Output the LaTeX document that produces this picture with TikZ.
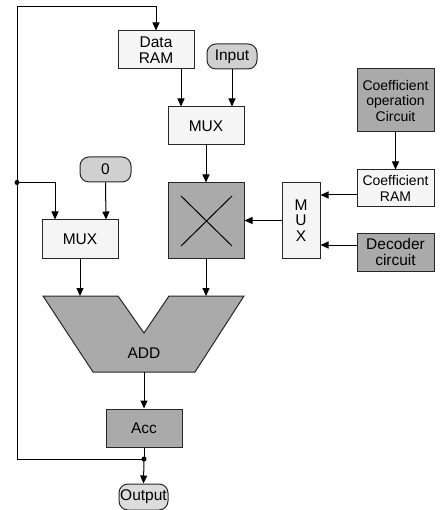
\documentclass[tikz,border=0pt]{standalone}
\usepackage{fontspec}
\setmainfont{Liberation Sans}
\usetikzlibrary{arrows.meta,calc}
\definecolor{lightbox}{HTML}{F5F5F5}
\definecolor{darkbox}{HTML}{AAAAAA}
\definecolor{pillc}{HTML}{D0D0D0}
\definecolor{pillo}{HTML}{DCDCDC}
\definecolor{edge}{HTML}{262626}
\begin{document}
\begin{tikzpicture}[x=1pt,y=-1pt,
  every node/.style={font=\fontsize{15.5}{15.5}\selectfont, inner sep=0pt, align=center},
  lbox/.style={draw=edge, line width=1pt, fill=lightbox, minimum width=76pt, minimum height=38pt},
  dbox/.style={draw=edge, line width=1pt, fill=darkbox, minimum width=77pt, minimum height=38pt},
  pill/.style={draw=edge, line width=1pt, fill=pillc, rounded corners=9pt, minimum height=25pt},
  smallt/.style={font=\fontsize{14}{15.5}\selectfont},
  conn/.style={draw=black, line width=1pt},
  arr/.style={conn, -{Triangle[length=8pt,width=7pt]}},
  jdot/.style={circle, fill=black, inner sep=0pt, minimum size=5pt}
]
\useasboundingbox (0,0) rectangle (443,510);

% nodes
\node[lbox] (dataram) at (156,50) {Data\\RAM};
\node[pill, minimum width=50pt] (input) at (232,56.5) {Input};
\node[lbox] (mux1) at (206,126) {MUX};
\node[pill, minimum width=51pt] (zero) at (105.5,169.5) {0};
\node[lbox] (mux2) at (80,239) {MUX};
\node[draw=edge, line width=1pt, fill=darkbox, minimum width=76pt, minimum height=75pt] (mult) at (206,220.5) {};
\draw[line width=1pt] (181,196) -- (232,246) (232,196) -- (181,246);
\node[lbox, minimum width=38pt, minimum height=75pt] (mux3) at (301,220.5) {M\\U\\X};
\node[dbox, smallt, minimum height=63pt] (coefop) at (395.5,100.5) {Coefficient\\operation\\Circuit};
\node[lbox, smallt, minimum width=77pt, minimum height=37pt] (coefram) at (395.5,188.5) {Coefficient\\RAM};
\node[dbox] (decoder) at (395.5,252) {Decoder\\circuit};

% ADD shape
\draw[draw=edge, line width=1pt, fill=darkbox]
  (43,296) -- (118,296) -- (144,333) -- (169,296) -- (244,296) -- (195,372) -- (93,372) -- cycle;
\node (add) at (144,353) {ADD};
\coordinate (addL) at (80,296);
\coordinate (addR) at (206,296);
\coordinate (addB) at (144,372);

\node[dbox, minimum width=76pt] (acc) at (144,428) {Acc};
\node[pill, fill=pillo, minimum width=49pt, minimum height=26pt] (output) at (143.5,497) {Output};

% junctions
\node[jdot] (j1) at (17,182.5) {};
\node[jdot] (j2) at (144,459) {};
\coordinate (tl) at (17,7);
\coordinate (bl) at (17,459);

% connectors
\draw[arr] (j2.center) -- (bl) -- (tl) -| (dataram.north);
\draw[arr] (j1.center) -| ([xshift=-25pt]mux2.north);
\draw[arr] (zero.south) -- ([xshift=26pt]mux2.north);
\draw[arr] ([xshift=25pt]dataram.south) -- ([xshift=-25pt]mux1.north);
\draw[arr] (input.south) -- ([xshift=26pt]mux1.north);
\draw[arr] (mux1.south) -- (mult.north);
\draw[arr] (mult.south) -- (addR);
\draw[arr] (mux2.south) -- (addL);
\draw[arr] (mux3.west) -- (mult.east);
\draw[arr] (coefop.south) -- (coefram.north);
\draw[arr] (coefram.west |- 0,195) -- (mux3.east |- 0,195);
\draw[arr] (decoder.west |- 0,245) -- (mux3.east |- 0,245);
\draw[arr] (addB) -- (acc.north);
\draw[conn] (acc.south) -- (j2.center);
\draw[arr] (j2.center) -- (output.north);
\end{tikzpicture}
\end{document}
